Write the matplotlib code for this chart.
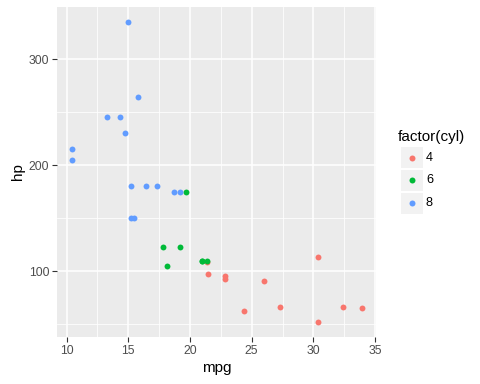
import matplotlib
matplotlib.use("Agg")
import matplotlib.pyplot as plt
from matplotlib.patches import Rectangle
from matplotlib.lines import Line2D

# mtcars: mpg, hp, cyl
mpg = [21.0, 21.0, 22.8, 21.4, 18.7, 18.1, 14.3, 24.4, 22.8, 19.2, 17.8,
       16.4, 17.3, 15.2, 10.4, 10.4, 14.7, 32.4, 30.4, 33.9, 21.5, 15.5,
       15.2, 13.3, 19.2, 27.3, 26.0, 30.4, 15.8, 19.7, 15.0, 21.4]
hp = [110, 110, 93, 110, 175, 105, 245, 62, 95, 123, 123,
      180, 180, 180, 205, 215, 230, 66, 52, 65, 97, 150,
      150, 245, 175, 66, 91, 113, 264, 175, 335, 109]
cyl = [6, 6, 4, 6, 8, 6, 8, 4, 4, 6, 6,
       8, 8, 8, 8, 8, 8, 4, 4, 4, 4, 8,
       8, 8, 8, 4, 4, 4, 8, 6, 8, 4]
levels = [4, 6, 8]
colors = {4: "#F8766D", 6: "#00BA38", 8: "#619CFF"}

plt.rcParams['font.family'] = ['Liberation Sans', 'DejaVu Sans']

fig = plt.figure(figsize=(4.8, 3.84), dpi=100)
ax = fig.add_axes([57 / 480, 47 / 384, 319 / 480, 330 / 384])
ax.set_facecolor("#EBEBEB")

for lv in levels:
    xs = [m for m, c in zip(mpg, cyl) if c == lv]
    ys = [h for h, c in zip(hp, cyl) if c == lv]
    ax.scatter(xs, ys, s=18, color=colors[lv], linewidths=0, zorder=3)

xr = max(mpg) - min(mpg)
yr = max(hp) - min(hp)
ax.set_xlim(min(mpg) - 0.05 * xr, max(mpg) + 0.05 * xr)
ax.set_ylim(min(hp) - 0.05 * yr, max(hp) + 0.05 * yr)

ax.set_xticks([10, 15, 20, 25, 30, 35])
ax.set_yticks([100, 200, 300])
ax.set_xticks([12.5, 17.5, 22.5, 27.5, 32.5], minor=True)
ax.set_yticks([50, 150, 250], minor=True)
ax.grid(which="major", color="white", linewidth=1.1)
ax.grid(which="minor", color="white", linewidth=0.55)
ax.set_axisbelow(True)
for s in ax.spines.values():
    s.set_visible(False)
ax.tick_params(which="major", length=3.5, width=0.8, color="#333333",
               labelsize=8.8, labelcolor="#4D4D4D", pad=2)
ax.tick_params(which="minor", length=0)

ax.set_xlabel("mpg", fontsize=11, labelpad=3)
ax.set_ylabel("hp", fontsize=11, labelpad=3)

# legend
fig.text(398 / 480, 1 - 137 / 384, "factor(cyl)", fontsize=11,
         va="center", ha="left")
for i, lv in enumerate(levels):
    top = 147.5 + i * 22.5
    fig.patches.append(Rectangle((401 / 480, 1 - (top + 21) / 384), 21.5 / 480, 21 / 384,
                                 transform=fig.transFigure, facecolor="#F2F2F2",
                                 edgecolor="none"))
    fig.lines.append(Line2D([411.5 / 480], [1 - (top + 10.5) / 384], marker="o",
                            markersize=4.3, color=colors[lv], markeredgewidth=0,
                            transform=fig.transFigure))
    fig.text(426 / 480, 1 - (top + 10.5) / 384, str(lv), fontsize=9.2,
             va="center", ha="left")

fig.savefig("out.png", dpi=100)
